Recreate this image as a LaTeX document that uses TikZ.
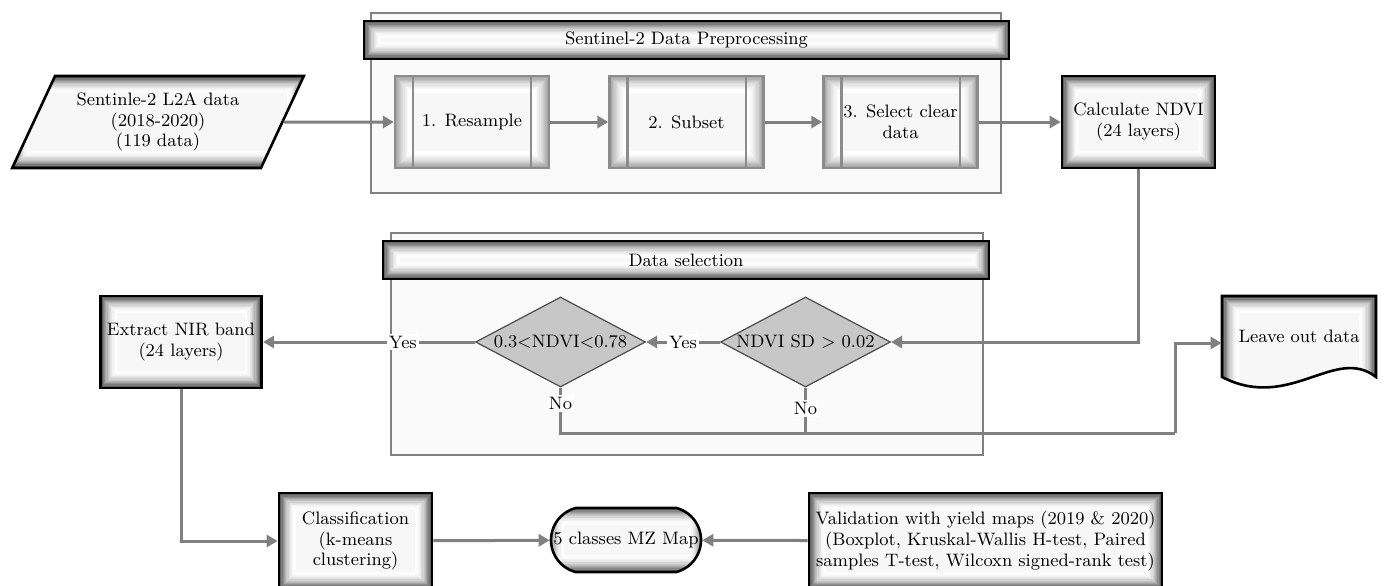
\documentclass[tikz,border=0pt]{standalone}
\usepackage{tikz}
\usetikzlibrary{positioning, arrows.meta, shapes.geometric, shapes.misc}
\tikzset{
	x=0.5pt, y=-0.5pt, % one unit is one pixel of the layout
	every node/.style={font=\fontsize{9}{10.3}\selectfont, align=center},
	glow/.style={path picture={ % dark rim fading to white inside
		\foreach \i in {0,...,13}{
			\pgfmathtruncatemacro\glowc{#1*((14-\i)/14)^2}
			\draw[black!\glowc, line width=0.7pt]
				([shift={(0.6pt*\i+0.35pt,0.6pt*\i+0.35pt)}]path picture bounding box.south west) rectangle
				([shift={(-0.6pt*\i-0.35pt,-0.6pt*\i-0.35pt)}]path picture bounding box.north east);
		}}},
	block/.style={rectangle, draw=black, line width=1.3pt, fill=black!3, glow=72, minimum width=77pt, minimum height=46pt},
	process/.style={rectangle, draw=black!45, line width=1.2pt, fill=black!3, glow=40, minimum width=77pt, minimum height=46pt},
	sideline/.style={draw=black!45, line width=1.2pt},
	header/.style={rectangle, draw=black, line width=1pt, fill=black!3, glow=70, minimum height=19pt},
	group/.style={rectangle, draw=black!50, line width=1pt, fill=black!2},
	decision/.style={diamond, aspect=1.9, draw=black!70, line width=0.6pt, fill=black!22, inner sep=0pt, minimum width=85pt, minimum height=45pt},
	flow/.style={draw=black!50, line width=1.5pt, -{Triangle[length=5.5pt,width=6pt]}},
	line/.style={draw=black!50, line width=1.5pt},
	lbl/.style={fill=white, inner sep=1pt},
}

\begin{document}
\begin{tikzpicture}
	\useasboundingbox (0,0) rectangle (1384,585);

	% the two groups
	\node[group, minimum width=315pt, minimum height=90pt] (g1) at (686,103) {};
	\node[header, minimum width=322.5pt] (h1) at (686.5,40) {Sentinel-2 Data Preprocessing};
	\node[group, minimum width=296pt, minimum height=111pt] (g2) at (687,344) {};
	\node[header, minimum width=303pt] (h2) at (686,260) {Data selection};

	% top row
	\node[trapezium, trapezium left angle=63, trapezium right angle=117, trapezium stretches=true,
		draw=black, line width=1.3pt, fill=black!3, glow=72, minimum width=146pt, minimum height=46pt]
		(in) at (158,122) {Sentinle-2 L2A data\\(2018-2020)\\(119 data)};
	\node[process] (rs) at (472,122) {1. Resample};
	\node[process] (sb) at (686.5,122) {2. Subset};
	\node[process] (sc) at (900.5,122) {3. Select clear\\data};
	\node[block, minimum width=76.5pt] (calc) at (1138.5,122) {Calculate NDVI\\(24 layers)};
	\foreach \n in {rs,sb,sc}{
		\draw[sideline] ([xshift=9.5pt]\n.north west) -- ([xshift=9.5pt]\n.south west)
			([xshift=-9.5pt]\n.north east) -- ([xshift=-9.5pt]\n.south east);
	}

	% middle row
	\node[decision] (d1) at (560.5,342) {0.3<NDVI<0.78};
	\node[decision] (d2) at (805.5,342) {NDVI SD > 0.02};
	\node[block] (ext) at (181,342) {Extract NIR band\\(24 layers)};
	\path[draw=black, line width=1.3pt, fill=black!3, glow=70]
		(1222,296) -- (1376,296) -- (1376,377) .. controls (1335,345) and (1290,412) .. (1222,377) -- cycle;
	\node[minimum width=77pt, minimum height=47pt] (leave) at (1299,343) {\raisebox{6.5pt}{Leave out data}};
	\coordinate (j1) at (1175,433);

	% bottom row
	\node[block, minimum width=76.5pt, minimum height=48pt] (cls) at (355.5,541) {Classification\\(k-means\\clustering)};
	\node[rounded rectangle, rounded rectangle arc length=150, draw=black, line width=1.3pt, fill=black!3, glow=65,
		minimum width=77pt, minimum height=32pt, inner sep=1pt] (map) at (626,540) {5 classes MZ Map};
	\node[block, minimum width=166.5pt, minimum height=48pt] (val) at (985.5,541)
		{Validation with yield maps (2019 \& 2020)\\(Boxplot, Kruskal-Wallis H-test, Paired\\samples T-test, Wilcoxn signed-rank test)};

	% connectors
	\draw[flow] (in) -- (rs);
	\draw[flow] (rs) -- (sb);
	\draw[flow] (sb) -- (sc);
	\draw[flow] (sc) -- (calc);
	\draw[flow] (calc) |- (d2);
	\draw[flow] (d2) -- node[lbl]{Yes} (d1);
	\draw[flow] (d1) -- node[lbl, pos=0.34]{Yes} (ext);
	\draw[line] (d1.south) -- node[lbl, pos=0.35]{No} (d1.south |- j1) -- (j1);
	\draw[line] (d2.south) -- node[lbl, pos=0.46]{No} (d2.south |- j1);
	\draw[flow] (j1) |- (leave.west);
	\draw[flow] (ext) |- (cls);
	\draw[flow] (cls) -- (map);
	\draw[flow] (val) -- (map);
\end{tikzpicture}
\end{document}
